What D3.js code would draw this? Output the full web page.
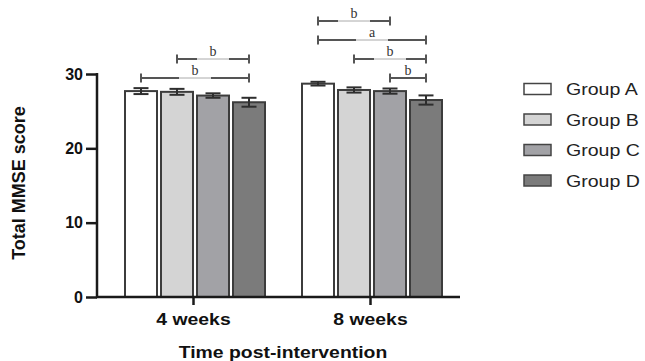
<!DOCTYPE html>
<html><head><meta charset="utf-8">
<script src="https://cdn.jsdelivr.net/npm/d3@7"></script>
<style>body{margin:0;background:#fff}svg{display:block}</style>
</head><body>
<svg id="chart" width="645" height="361"></svg>
<script>
// ---- data ----
const timepoints = ["4 weeks", "8 weeks"];
const groups = ["Group A", "Group B", "Group C", "Group D"];
const means4w = [27.7, 27.6, 27.1, 26.2];
const means8w = [28.7, 27.85, 27.7, 26.5];
const sem4w = [0.4, 0.4, 0.3, 0.6];
const sem8w = [0.25, 0.35, 0.35, 0.62];
const yTicks = [0, 10, 20, 30];
// significance brackets
const sigTime  = ["4 weeks", "4 weeks", "8 weeks", "8 weeks", "8 weeks", "8 weeks"];
const sigFrom  = ["Group B", "Group A", "Group A", "Group A", "Group B", "Group C"];
const sigTo    = ["Group D", "Group D", "Group C", "Group D", "Group D", "Group D"];
const sigLabel = ["b", "b", "b", "a", "b", "b"];
const sigLevel = [1, 0, 3, 2, 1, 0];

const fills = ["#ffffff", "#d4d4d4", "#a2a2a6", "#7b7b7b"];

const rows = [];
timepoints.forEach((t, ti) => {
  const m = ti === 0 ? means4w : means8w;
  const s = ti === 0 ? sem4w : sem8w;
  groups.forEach((g, gi) => rows.push({t, g, gi, mean: m[gi], sem: s[gi]}));
});

const svg = d3.select("#chart");
const y = d3.scaleLinear().domain([0, 30]).range([297, 74]);
const x0 = d3.scaleBand().domain(timepoints).range([105, 459]);
const x1 = d3.scaleBand().domain(groups).range([-70, 70]).paddingInner(4 / 36);
const cx = (t, g) => x0(t) + x0.bandwidth() / 2 + 1.5 + x1(g);

// bars
svg.append("g").selectAll("rect").data(rows).join("rect")
  .attr("x", d => cx(d.t, d.g))
  .attr("y", d => y(d.mean))
  .attr("width", x1.bandwidth())
  .attr("height", d => y(0) - y(d.mean))
  .attr("fill", d => fills[d.gi])
  .attr("stroke", "#3c3c3c").attr("stroke-width", 2);

// error bars
const eb = svg.append("g").attr("stroke", "#2e2e2e").attr("stroke-width", 2);
rows.forEach(d => {
  const c = cx(d.t, d.g) + x1.bandwidth() / 2;
  eb.append("line").attr("x1", c).attr("x2", c).attr("y1", y(d.mean + d.sem)).attr("y2", y(d.mean - d.sem));
  eb.append("line").attr("x1", c - 7.5).attr("x2", c + 7.5).attr("y1", y(d.mean + d.sem)).attr("y2", y(d.mean + d.sem));
  eb.append("line").attr("x1", c - 7.5).attr("x2", c + 7.5).attr("y1", y(d.mean - d.sem)).attr("y2", y(d.mean - d.sem));
});

// y axis
const yAxis = svg.append("g").attr("transform", "translate(97,0)")
  .call(d3.axisLeft(y).tickValues(yTicks).tickSize(11).tickPadding(3));
yAxis.select(".domain").remove();
yAxis.append("line").attr("x1", 0).attr("x2", 0).attr("y1", y(30) - 1).attr("y2", y(0)).attr("stroke", "#1a1a1a").attr("stroke-width", 2.5);
yAxis.selectAll(".tick line").attr("stroke", "#1a1a1a").attr("stroke-width", 2.5);
yAxis.selectAll(".tick text").attr("fill", "#111").attr("font-family", "Liberation Sans, Arial, sans-serif")
  .attr("font-size", 16).attr("font-weight", "bold");

// x axis
const xAxis = svg.append("g").attr("transform", `translate(0,${y(0)})`)
  .call(d3.axisBottom(x0).tickSize(8).tickPadding(5));
xAxis.select(".domain").remove();
xAxis.append("line").attr("x1", 96).attr("x2", 460).attr("y1", 0).attr("y2", 0).attr("stroke", "#1a1a1a").attr("stroke-width", 2.5);
xAxis.selectAll(".tick line").attr("stroke", "#1a1a1a").attr("stroke-width", 2.5);
xAxis.selectAll(".tick text").attr("fill", "#111").attr("font-family", "Liberation Sans, Arial, sans-serif")
  .attr("font-size", 17).attr("font-weight", "bold").attr("dy", "0.9em");

function stretch(sel, k) {
  sel.each(function () {
    const w = this.getComputedTextLength();
    d3.select(this).attr("textLength", w * k).attr("lengthAdjust", "spacingAndGlyphs");
  });
}
stretch(xAxis.selectAll(".tick text"), 1.14);

// axis titles
const yt = svg.append("text").attr("transform", "translate(25,183) rotate(-90)")
  .attr("text-anchor", "middle").attr("font-family", "Liberation Sans, Arial, sans-serif")
  .attr("font-size", 18).attr("font-weight", "bold").attr("fill", "#111").text("Total MMSE score");
const xt = svg.append("text").attr("x", 283).attr("y", 358)
  .attr("text-anchor", "middle").attr("font-family", "Liberation Sans, Arial, sans-serif")
  .attr("font-size", 17).attr("font-weight", "bold").attr("fill", "#111").text("Time post-intervention");
stretch(xt, 1.14);

// significance brackets
const sg = svg.append("g");
sigTime.forEach((t, i) => {
  const xa = cx(t, sigFrom[i]) + x1.bandwidth() / 2;
  const xb = cx(t, sigTo[i]) + x1.bandwidth() / 2;
  const yy = 78 - sigLevel[i] * 19;
  const mid = (xa + xb) / 2;
  const dark = "#555";
  if (xb - xa > 40) {
    sg.append("line").attr("x1", xa).attr("x2", mid - 16).attr("y1", yy).attr("y2", yy).attr("stroke", dark).attr("stroke-width", 2);
    sg.append("line").attr("x1", mid - 16).attr("x2", mid + 16).attr("y1", yy).attr("y2", yy).attr("stroke", "#aaa").attr("stroke-width", 1);
    sg.append("line").attr("x1", mid + 16).attr("x2", xb).attr("y1", yy).attr("y2", yy).attr("stroke", dark).attr("stroke-width", 2);
  } else {
    sg.append("line").attr("x1", xa).attr("x2", xb).attr("y1", yy).attr("y2", yy).attr("stroke", dark).attr("stroke-width", 2);
  }
  [xa, xb].forEach(xx => sg.append("line").attr("x1", xx).attr("x2", xx).attr("y1", yy - 4.5).attr("y2", yy + 4.5).attr("stroke", dark).attr("stroke-width", 2));
  sg.append("text").attr("x", mid).attr("y", yy - 3).attr("text-anchor", "middle")
    .attr("font-family", "Liberation Serif, Times New Roman, serif").attr("font-size", 14)
    .attr("fill", "#333").text(sigLabel[i]);
});

// legend
const lg = svg.append("g").attr("transform", "translate(524,89)");
groups.forEach((g, i) => {
  const r = lg.append("g").attr("transform", `translate(0,${i * 30.5})`);
  r.append("rect").attr("x", 0).attr("y", -5.5).attr("width", 27).attr("height", 11)
    .attr("fill", fills[i]).attr("stroke", "#444").attr("stroke-width", 1.5);
  const tx = r.append("text").attr("x", 42).attr("y", 6).attr("font-family", "Liberation Sans, Arial, sans-serif")
    .attr("font-size", 17).attr("fill", "#222").text(g);
  stretch(tx, 1.15);
});
</script>
</body></html>
